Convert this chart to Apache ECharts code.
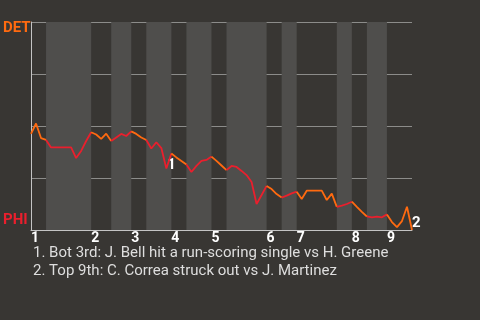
<!DOCTYPE html>
<html>
<head>
<meta charset="utf-8">
<script src="https://cdn.jsdelivr.net/npm/echarts@6/dist/echarts.min.js"></script>
<style>
html,body{margin:0;padding:0;background:#383633;}
#chart{width:480px;height:320px;}
</style>
</head>
<body>
<div id="chart"></div>
<script>
// DET win probability (%) after each play (index = play number)
const detWinPct = [46.2,51.2,44.2,43.3,39.7,39.7,39.7,39.7,39.7,34.6,
  38.0,42.8,47.0,45.9,43.8,46.3,42.8,44.5,46.2,45.2,
  47.4,46.2,44.5,43.3,39.2,42.2,39.4,29.6,36.8,34.9,
  33.2,31.5,27.9,30.8,33.2,33.7,35.3,33.2,31.0,28.8,
  30.8,30.3,28.4,26.4,23.1,12.5,16.8,21.2,19.7,17.3,
  15.6,16.5,17.6,18.4,14.9,18.9,18.9,18.9,18.9,14.4,
  17.5,11.1,11.7,12.5,13.6,11.1,8.7,6.5,6.1,6.4,
  6.1,7.5,3.8,1.4,4.3,11.2,0];
// play index at which each half-inning ends (top1, bot1, top2, ...)
const halfInningEnds = [3,12,16,20,23,28,31,36,39,47,50,53,61,64,67,71,76];
const inningLabels = ['1','2','3','4','5','6','7','8','9'];
const teams = {top:'DET', bottom:'PHI'};
const notes = [
  '1. Bot 3rd: J. Bell hit a run-scoring single vs H. Greene',
  '2. Top 9th: C. Correa struck out vs J. Martinez'
];
const notePlays = [27, 76];

const ORANGE = '#ff6a10', RED = '#ea1f2d';

const halfStarts = [0].concat(halfInningEnds.slice(0,-1));
const inningStarts = halfStarts.filter((_, i) => i % 2 === 0);
const bottomBands = [];
halfStarts.forEach((s, i) => { if (i % 2 === 1) bottomBands.push([{xAxis: s}, {xAxis: halfInningEnds[i]}]); });
const lineData = detWinPct.map((v, i) => [i, v]);
const maxPlay = halfInningEnds[halfInningEnds.length-1];

const segSeries = halfStarts.map((s, i) => ({
  type: 'line', silent: true, showSymbol: false, z: 5,
  data: lineData.slice(s, halfInningEnds[i] + 1),
  lineStyle: {width: 1.8, color: i % 2 === 0 ? ORANGE : RED}
}));

const chart = echarts.init(document.getElementById('chart'), null, {renderer:'canvas'});
chart.setOption({
  backgroundColor: '#383633',
  animation: false,
  textStyle: {fontFamily: 'Roboto'},
  grid: {left: 31, right: 68, top: 22, bottom: 90},
  xAxis: {
    type: 'value', min: 0, max: maxPlay,
    axisLine: {show: true, lineStyle: {color: '#c4c4c4', width: 1}},
    axisTick: {show: false},
    splitLine: {show: false},
    axisLabel: {
      customValues: inningStarts,
      formatter: v => inningLabels[inningStarts.indexOf(v)],
      align: 'left', margin: 1,
      color: '#ffffff', fontWeight: 'bold', fontSize: 14, fontFamily: 'Roboto'
    }
  },
  yAxis: {
    type: 'value', min: 0, max: 100, interval: 25,
    axisLine: {show: true, lineStyle: {color: '#c4c4c4', width: 1}},
    axisTick: {show: false},
    axisLabel: {show: false},
    splitLine: {show: true, lineStyle: {color: '#8c8c8a', width: 1}}
  },
  series: [
    {
      type: 'line', data: [], silent: true,
      markArea: {silent: true, itemStyle: {color: '#4f4e4c'}, data: bottomBands}
    },
    {
      type: 'line', data: [lineData[notePlays[0]], lineData[notePlays[1]]], silent: true,
      showSymbol: false, lineStyle: {width: 0, opacity: 0}, z: 6,
      markPoint: {
        symbol: 'circle', symbolSize: 0, silent: true,
        data: [
          {coord: lineData[notePlays[0]], label: {formatter: '1', position: 'right', distance: 1, offset: [0,-3], fontSize: 15}},
          {coord: lineData[notePlays[1]], label: {formatter: '2', position: 'right', distance: 0, offset: [0,-7], fontSize: 15}}
        ],
        label: {show: true, color: '#ffffff', fontWeight: 'bold', fontFamily: 'Roboto'}
      }
    }
  ].concat(segSeries),
  graphic: [
    {type: 'text', style: {x: 3, y: 28, text: teams.top, fill: ORANGE, font: 'bold 15px Roboto', verticalAlign: 'middle'}},
    {type: 'text', style: {x: 3, y: 220, text: teams.bottom, fill: RED, font: 'bold 15px Roboto', verticalAlign: 'middle'}},
    {type: 'text', style: {x: 33, y: 253.5, text: notes[0], fill: '#dedede', font: '15px Roboto', verticalAlign: 'middle'}},
    {type: 'text', style: {x: 33, y: 271, text: notes[1], fill: '#dedede', font: '15px Roboto', verticalAlign: 'middle'}}
  ]
});
</script>
</body>
</html>
